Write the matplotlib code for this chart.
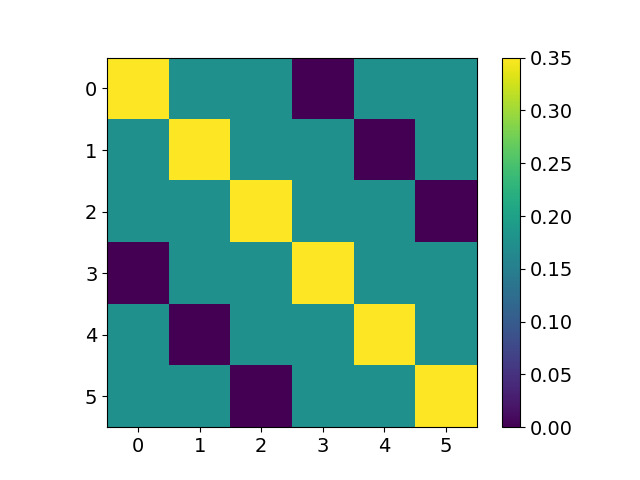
import matplotlib
matplotlib.use('Agg')
import matplotlib.pyplot as plt
import numpy as np

plt.rcParams['font.size'] = 14

diag = 0.35
off = 0.175
zero = 0.0
labels = [0, 1, 2, 3, 4, 5]

n = len(labels)
mat = np.full((n, n), off)
for i in range(n):
    mat[i, i] = diag
    mat[i, (i + 3) % n] = zero

fig = plt.figure(figsize=(6.4, 4.8), dpi=100)
ax = fig.add_subplot(111)
im = ax.imshow(mat, cmap='viridis', vmin=0, vmax=0.35)
ax.set_xticks(range(n))
ax.set_yticks(range(n))
ax.set_xticklabels(labels)
ax.set_yticklabels(labels)
fig.colorbar(im)
fig.savefig('out.png')
